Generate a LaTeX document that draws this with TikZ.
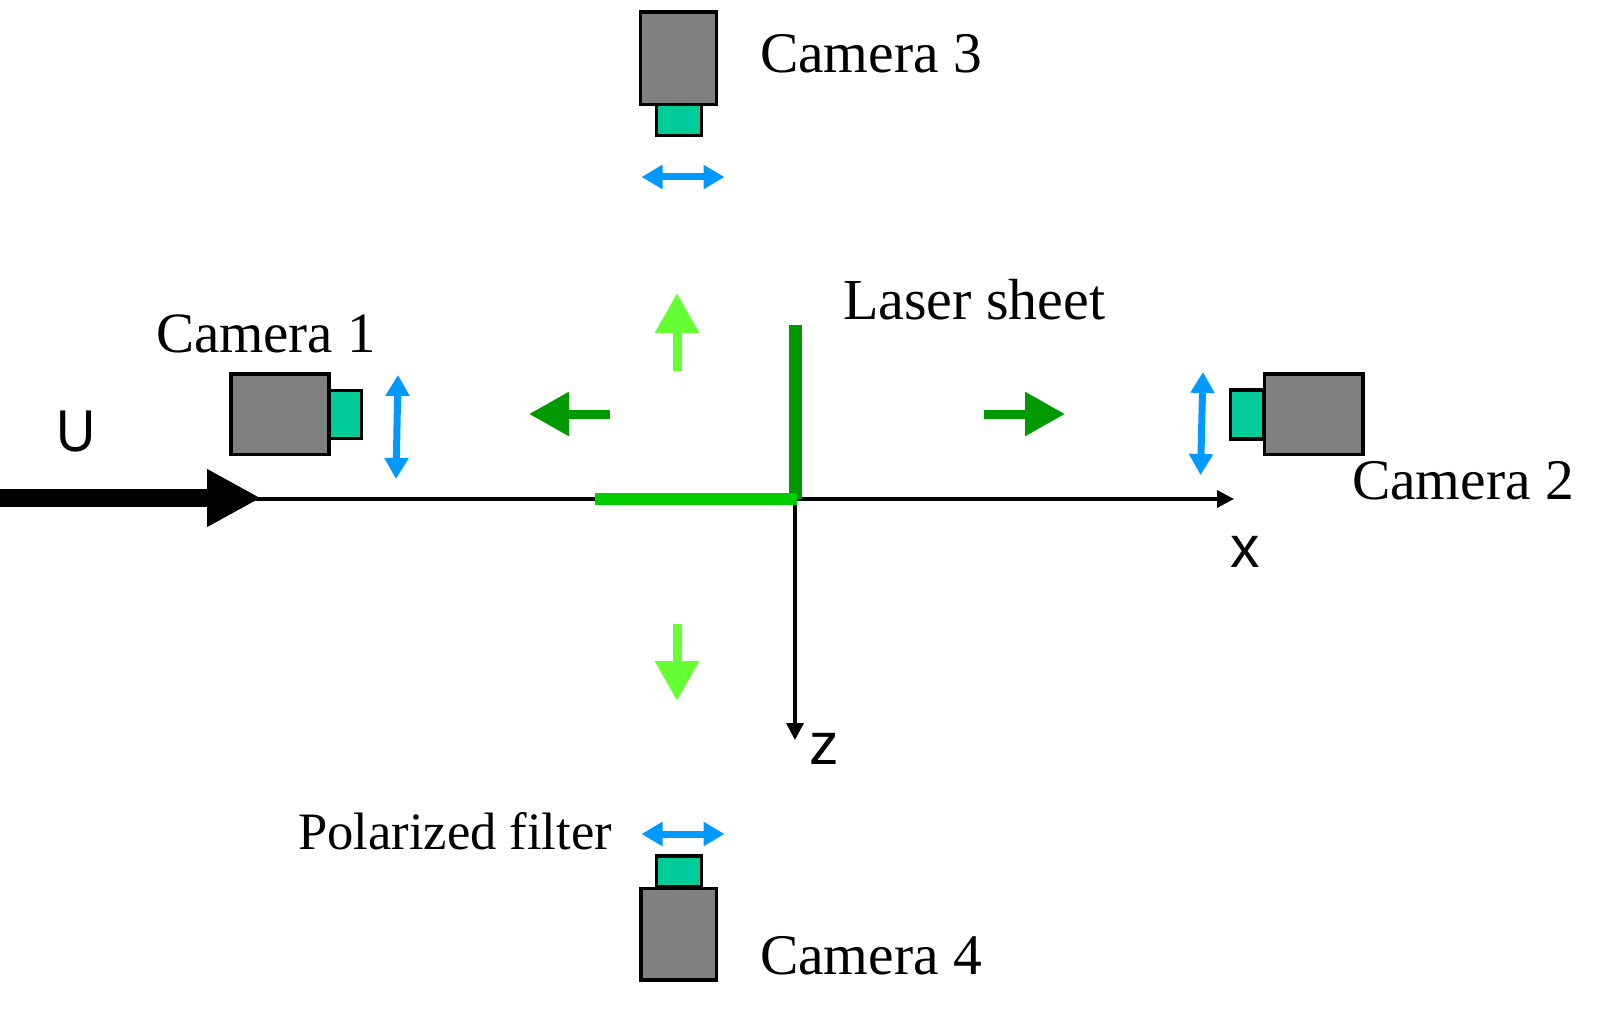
\documentclass[tikz,border=0pt]{standalone}
\usepackage{fontspec}
\setmainfont{Liberation Serif}
\newfontfamily\axisfont{Liberation Sans}
\usetikzlibrary{arrows.meta}
\definecolor{bodygray}{HTML}{808080}
\definecolor{lensgreen}{HTML}{00CC99}
\definecolor{polblue}{HTML}{0099FF}
\definecolor{lightgr}{HTML}{66FF33}
\definecolor{darkgr}{HTML}{009900}
\definecolor{sheetgr}{HTML}{00CC00}
\tikzset{
  boxbase/.style={draw=black,line width=3.5pt,inner sep=0pt,outer sep=0pt},
  body/.style={boxbase,fill=bodygray},
  lens/.style={boxbase,fill=lensgreen},
  label/.style={anchor=base west,inner sep=0pt,outer sep=0pt,font=\fontsize{57.5}{60}\selectfont},
  smalllabel/.style={label,font=\fontsize{52.6}{56}\selectfont},
  axislabel/.style={anchor=base west,inner sep=0pt,outer sep=0pt,font=\axisfont\fontsize{59}{62}\selectfont},
  polarrow/.style={draw=polblue,line width=7pt,{Triangle[length=21pt,width=23pt]}-{Triangle[length=21pt,width=23pt]},polblue},
  beamH/.style={line width=9pt,-{Triangle[length=40pt,width=42pt]}},
  axisline/.style={draw=black,line width=3.5pt},
}
\begin{document}
\begin{tikzpicture}[x=1pt,y=-1pt]
\useasboundingbox (0,0) rectangle (1610,1024);
% coordinates
\coordinate (ustart) at (0,498);
\coordinate (utip) at (261,498);
\coordinate (uline) at (255,499);
\coordinate (origin) at (795,499);
\coordinate (xend) at (1234,499);
\coordinate (zend) at (795,740);
\coordinate (sheetL) at (595,499);
\coordinate (sheetR) at (797,499);
\coordinate (sheetT) at (795.5,325);
\coordinate (sheetB) at (795.5,499);
% axes
\draw[axisline] (uline) -- (origin);
\draw[axisline,-{Triangle[length=17pt,width=17pt]}] (origin) -- (xend);
\draw[axisline,-{Triangle[length=17pt,width=17pt]}] (origin) -- (zend);
\draw[line width=18pt,black,-{Triangle[length=54pt,width=54pt]}] (ustart) -- (utip);
% laser sheet
\draw[line width=12.5pt,darkgr] (sheetT) -- (sheetB);
\draw[line width=12.5pt,sheetgr] (sheetL) -- (sheetR);
% cameras: lenses then bodies
\node[lens,minimum width=33pt,minimum height=48pt] (lens1) at (345,414.3) {};
\node[body,minimum width=98pt,minimum height=80.5pt] (body1) at (280,414.3) {};
\node[lens,minimum width=33pt,minimum height=49pt] (lens2) at (1247,414.5) {};
\node[body,minimum width=98.5pt,minimum height=80.5pt] (body2) at (1313.5,414.3) {};
\node[lens,minimum width=45pt,minimum height=31pt] (lens3) at (679,120) {};
\node[body,minimum width=76pt,minimum height=92.5pt] (body3) at (678.7,58.3) {};
\node[lens,minimum width=45pt,minimum height=31pt] (lens4) at (679,871.5) {};
\node[body,minimum width=75.5pt,minimum height=91.5pt] (body4) at (678.7,934.2) {};
% polariser arrows
\coordinate (p1t) at (398,375); \coordinate (p1b) at (396,479);
\coordinate (p2t) at (1203,372); \coordinate (p2b) at (1200.5,475);
\coordinate (p3l) at (641.5,177); \coordinate (p3r) at (724.5,177);
\coordinate (p4l) at (641.5,834); \coordinate (p4r) at (724.5,834);
\draw[polarrow] (p1t) -- (p1b);
\draw[polarrow] (p2t) -- (p2b);
\draw[polarrow] (p3l) -- (p3r);
\draw[polarrow] (p4l) -- (p4r);
% scattered light arrows
\coordinate (gl0) at (610,414); \coordinate (gl1) at (529,414);
\coordinate (gr0) at (984,414); \coordinate (gr1) at (1065,414);
\coordinate (gu0) at (677,371); \coordinate (gu1) at (677,293);
\coordinate (gd0) at (677,624); \coordinate (gd1) at (677,701);
\draw[beamH,darkgr] (gl0) -- (gl1);
\draw[beamH,darkgr] (gr0) -- (gr1);
\draw[beamH,lightgr] (gu0) -- (gu1);
\draw[beamH,lightgr] (gd0) -- (gd1);
% labels
\node[label,font=\fontsize{57}{60}\selectfont] (cam1) at (156,352.5) {Camera 1};
\node[label] (cam2) at (1352,499.5) {Camera 2};
\node[label] (cam3) at (760,73) {Camera 3};
\node[label] (cam4) at (760,974.5) {Camera 4};
\node[label,font=\fontsize{58}{60}\selectfont] (laser) at (843,320) {Laser sheet};
\node[smalllabel] (pol) at (298,849.5) {Polarized filter};
\node[axislabel,xscale=0.92] (uL) at (56.5,451) {U};
\node[axislabel] (xL) at (1230,567.5) {x};
\node[axislabel] (zL) at (809,764.5) {z};
\end{tikzpicture}
\end{document}
